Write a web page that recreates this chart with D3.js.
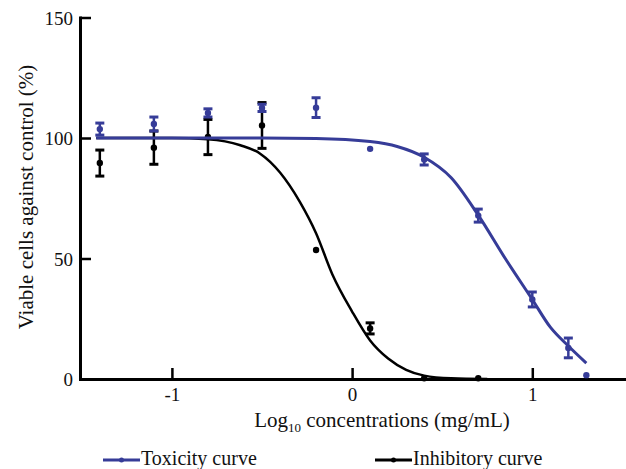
<!DOCTYPE html>
<html>
<head>
<meta charset="utf-8">
<title>Viable cells</title>
<script src="https://d3js.org/d3.v7.min.js"></script>
<style>
  body { margin: 0; background: #fff; }
  svg { display: block; }
  svg text, svg tspan { font-family: 'Liberation Serif', 'Times New Roman', serif !important; }
</style>
</head>
<body>
<script>
// measured points (log10 mg/mL, % viable) with error half-widths
var doses = [-1.4, -1.1, -0.8, -0.5, -0.2, 0.1, 0.4, 0.7, 1.0, 1.2, 1.3];
var toxMean = [103.7, 105.8, 110.4, 112.5, 112.6, 95.5, 91.1, 67.8, 33, 12.9, 1.6];
var toxErr  = [2.5, 2.9, 1.7, 1.5, 4.1, 0, 2.3, 2.7, 3.1, 4.1, 0];
var inhDoses = [-1.4, -1.1, -0.8, -0.5, -0.2, 0.1, 0.4, 0.7];
var inhMean = [89.6, 96, 100.4, 105.2, 53.5, 21, 0.3, 0.3];
var inhErr  = [5.4, 6.9, 7.3, 9.5, 0, 2.3, 0, 0];

// fitted curves
var toxCurveX = [-1.42, -0.5, -0.2, 0.1, 0.25, 0.4, 0.55, 0.7, 0.85, 1.0, 1.1, 1.2, 1.3];
var toxCurveY = [100, 100, 99.8, 98.5, 96.5, 92, 83.5, 68, 50, 33, 21.5, 13.7, 6.6];
var inhCurveX = [-1.42, -1.0, -0.8, -0.62, -0.51, -0.4, -0.29, -0.2, -0.11, 0, 0.1, 0.2, 0.3, 0.4, 0.55, 0.75];
var inhCurveY = [100, 100, 99.5, 97, 93.5, 85.7, 73.5, 60.5, 43.5, 28, 16, 8.5, 3.8, 1.4, 0.3, 0];

var yTicks = [0, 50, 100, 150];
var xTicks = [-1, 0, 1];
var seriesNames = ["Toxicity curve", "Inhibitory curve"];

var W = 626, H = 469;
var blue = "#363c98", black = "#000";

var svg = d3.select("body").append("svg")
  .attr("width", W)
  .attr("height", H);

var x = d3.scaleLinear().domain([-1.51, 1.52]).range([80, 626]);
var y = d3.scaleLinear().domain([0, 150]).range([379, 17.5]);

// axes
var yAxis = d3.axisLeft(y).tickValues(yTicks).tickSizeInner(-11).tickSizeOuter(0).tickPadding(7);
var xAxis = d3.axisBottom(x).tickValues(xTicks).tickSizeInner(-11).tickSizeOuter(0).tickPadding(9)
  .tickFormat(function(d) { return String(d); });

var gy = svg.append("g").attr("transform", "translate(" + x.range()[0] + ",0)").call(yAxis);
var gx = svg.append("g").attr("transform", "translate(0," + y(0) + ")").call(xAxis);

[gx, gy].forEach(function(g) {
  g.attr("font-family", null).attr("font-size", 19);
  g.select(".domain").attr("stroke-width", 3).attr("stroke-linecap", "square");
  g.selectAll(".tick line").attr("stroke-width", 2.5);
  g.selectAll(".tick text").attr("font-size", 19).attr("fill", "#111");
});
gy.selectAll(".tick text").attr("dy", "0.36em");

// axis titles
svg.append("text")
  .attr("transform", "translate(33,197) rotate(-90)")
  .attr("text-anchor", "middle")
  .attr("font-size", 21)
  .attr("fill", "#111")
  .text("Viable cells against control (%)");

var xt = svg.append("text")
  .attr("x", 382).attr("y", 427)
  .attr("text-anchor", "middle")
  .attr("font-size", 21)
  .attr("fill", "#111");
xt.append("tspan").text("Log");
xt.append("tspan").attr("font-size", 13).attr("dy", 5).text("10");
xt.append("tspan").attr("dy", -5).text(" concentrations (mg/mL)");

var line = d3.line()
  .x(function(d) { return x(d[0]); })
  .y(function(d) { return y(d[1]); })
  .curve(d3.curveMonotoneX);

function drawSeries(dx, mean, err, cx, cy, col, w) {
  var g = svg.append("g");
  g.append("path")
    .datum(d3.zip(cx, cy))
    .attr("fill", "none")
    .attr("stroke", col)
    .attr("stroke-width", w)
    .attr("d", line);
  var pts = d3.zip(dx, mean, err);
  var eb = g.selectAll(".eb").data(pts.filter(function(d) { return d[2] > 0; })).enter().append("g");
  eb.append("line")
    .attr("x1", function(d) { return x(d[0]); })
    .attr("x2", function(d) { return x(d[0]); })
    .attr("y1", function(d) { return y(d[1] - d[2]); })
    .attr("y2", function(d) { return y(d[1] + d[2]); })
    .attr("stroke", col).attr("stroke-width", 2.5);
  [-1, 1].forEach(function(s) {
    eb.append("line")
      .attr("x1", function(d) { return x(d[0]) - 4.5; })
      .attr("x2", function(d) { return x(d[0]) + 4.5; })
      .attr("y1", function(d) { return y(d[1] + s * d[2]); })
      .attr("y2", function(d) { return y(d[1] + s * d[2]); })
      .attr("stroke", col).attr("stroke-width", 3);
  });
  g.selectAll("circle").data(pts).enter().append("circle")
    .attr("cx", function(d) { return x(d[0]); })
    .attr("cy", function(d) { return y(d[1]); })
    .attr("r", 3.2)
    .attr("fill", col);
}

drawSeries(inhDoses, inhMean, inhErr, inhCurveX, inhCurveY, black, 2.5);
drawSeries(doses, toxMean, toxErr, toxCurveX, toxCurveY, blue, 3);

// legend
var legend = svg.append("g");
var lx = [103, 375];
var cols = [blue, black];
seriesNames.forEach(function(n, i) {
  legend.append("line")
    .attr("x1", lx[i]).attr("x2", lx[i] + 37)
    .attr("y1", 460).attr("y2", 460)
    .attr("stroke", cols[i]).attr("stroke-width", 3);
  legend.append("circle")
    .attr("cx", lx[i] + 18.5).attr("cy", 460).attr("r", 2.5).attr("fill", cols[i]);
  legend.append("text")
    .attr("x", lx[i] + 38).attr("y", 465)
    .attr("font-size", 20)
    .attr("fill", "#111")
    .text(n);
});
</script>
</body>
</html>
